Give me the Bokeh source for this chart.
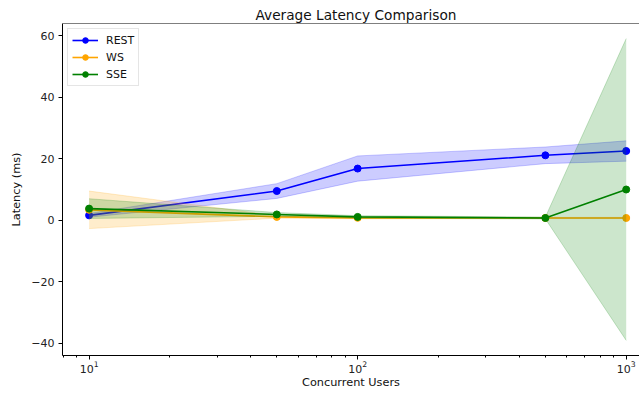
from bokeh.plotting import figure
from bokeh.models import Range1d, FixedTicker, Span, Legend, LegendItem, ColumnDataSource
from bokeh.embed import file_html
from bokeh.resources import INLINE

users = [10, 50, 100, 500, 1000]
rest_mean = [1.6, 9.5, 16.8, 21.1, 22.5]
rest_std = [0.6, 2.4, 4.1, 2.7, 3.3]
ws_mean = [3.4, 1.1, 0.8, 0.75, 0.75]
ws_std = [6.1, 0.4, 0.3, 0.2, 0.2]
sse_mean = [3.8, 1.9, 1.1, 0.75, 10.0]
sse_std = [3.2, 0.6, 0.4, 0.3, 49.0]
y_ticks = [-40, -20, 0, 20, 40, 60]

FONT = "DejaVu Sans"

p = figure(width=639, height=393, x_axis_type="log",
           x_range=Range1d(10 ** 0.901, 10 ** 3.0495),
           y_range=Range1d(-43.9, 63.9),
           output_backend="svg", toolbar_location=None,
           min_border_left=62, min_border_right=0,
           min_border_top=23, min_border_bottom=38,
           title="Average Latency Comparison")
p.outline_line_color = None
p.grid.visible = False
p.background_fill_color = "white"
p.border_fill_color = "white"

p.title.text_font = FONT
p.title.text_font_size = "13.7px"
p.title.text_font_style = "normal"
p.title.align = "left"
p.title.offset = 193
p.title.standoff = 2
p.title.text_color = "#111111"

for ax in (p.xaxis[0], p.yaxis[0]):
    ax.axis_line_color = "black"
    ax.axis_line_width = 1
    ax.major_tick_in = 0
    ax.major_tick_out = 4
    ax.minor_tick_in = 0
    ax.minor_tick_out = 2
    ax.major_label_text_font = FONT
    ax.major_label_text_font_size = "11px"
    ax.major_label_text_color = "#222222"
    ax.axis_label_text_font = FONT
    ax.axis_label_text_font_size = "11.3px"
    ax.axis_label_text_font_style = "normal"
    ax.axis_label_text_color = "#111111"

p.xaxis.axis_label = "Concurrent Users"
p.xaxis.major_label_standoff = 1
p.xaxis.axis_label_standoff = 0
p.yaxis.axis_label = "Latency (ms)"
p.yaxis.major_label_standoff = 4
p.yaxis.axis_label_standoff = 5
p.yaxis.ticker = FixedTicker(ticks=y_ticks, minor_ticks=[])
p.yaxis.major_label_overrides = {t: (("\u2212" + str(abs(t))) if t < 0 else str(t)) for t in y_ticks}

top = Span(location=63.9, dimension="width", line_color="black", line_width=1)
p.add_layout(top)

items = []
series = [("REST", rest_mean, rest_std, "blue"),
          ("WS", ws_mean, ws_std, "orange"),
          ("SSE", sse_mean, sse_std, "green")]
for name, mean, std, color in series:
    lower = [m - s for m, s in zip(mean, std)]
    upper = [m + s for m, s in zip(mean, std)]
    src = ColumnDataSource(dict(x=users, y=mean, lo=lower, hi=upper))
    ln = p.line("x", "y", source=src, line_color=color, line_width=1.6)
    sc = p.scatter("x", "y", source=src, size=7, fill_color=color, line_color=color)
    p.varea(x="x", y1="lo", y2="hi", source=src, fill_color=color, fill_alpha=0.2)
    p.line("x", "lo", source=src, line_color=color, line_alpha=0.2, line_width=1)
    p.line("x", "hi", source=src, line_color=color, line_alpha=0.2, line_width=1)
    items.append(LegendItem(label=name, renderers=[ln, sc]))

legend = Legend(items=items, location="top_left")
legend.label_text_font = FONT
legend.label_text_font_size = "11px"
legend.label_text_color = "#111111"
legend.glyph_width = 26
legend.glyph_height = 14
legend.label_height = 14
legend.spacing = 3
legend.padding = 4
legend.margin = 5
legend.label_standoff = 8
legend.border_line_color = "#cccccc"
legend.border_line_width = 1
legend.background_fill_alpha = 0.8
p.add_layout(legend)

open("out.html", "w").write(file_html(p, INLINE))
